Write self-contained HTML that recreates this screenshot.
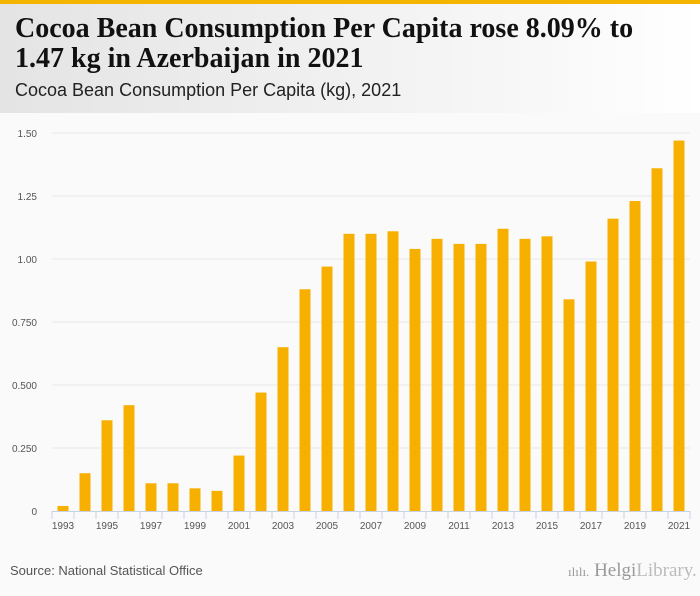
<!DOCTYPE html>
<html><head><meta charset="utf-8"><style>
body{margin:0;width:700px;height:596px;background:#fafafa;font-family:"Liberation Sans",sans-serif;overflow:hidden;position:relative}
#topbar{position:absolute;left:0;top:0;width:700px;height:4px;background:#f5b400}
#header{position:absolute;left:0;top:4px;width:700px;height:109px;background:linear-gradient(90deg,#e4e4e4,#f6f6f6 70%,#fff)}
#title{position:absolute;left:15px;top:14px;font-family:"Liberation Serif",serif;font-weight:bold;font-size:28px;line-height:30px;color:#111;margin:0;white-space:nowrap}
#subtitle{position:absolute;left:15px;top:80px;font-size:18px;color:#222}
#source{position:absolute;left:10px;top:563px;font-size:13px;color:#555}
#logo{position:absolute;left:568px;top:560px;font-family:"Liberation Serif",serif;font-size:19px;color:#999;white-space:nowrap}
svg{position:absolute;left:0;top:0}
</style></head><body>
<div id="topbar"></div>
<div id="header"></div>
<h1 id="title">Cocoa Bean Consumption Per Capita rose 8.09% to<br>1.47 kg in Azerbaijan in 2021</h1>
<div id="subtitle">Cocoa Bean Consumption Per Capita (kg), 2021</div>
<svg id="chart" width="700" height="596"></svg>
<div id="source">Source: National Statistical Office</div>
<div id="logo"><span style="font-size:13px">ılılı.</span> Helgi<span style="color:#bbb">Library.</span></div>
<script>
const years=[1993,1994,1995,1996,1997,1998,1999,2000,2001,2002,2003,2004,2005,2006,2007,2008,2009,2010,2011,2012,2013,2014,2015,2016,2017,2018,2019,2020,2021];
const values=[0.02,0.15,0.36,0.42,0.11,0.11,0.09,0.08,0.22,0.47,0.65,0.88,0.97,1.10,1.10,1.11,1.04,1.08,1.06,1.06,1.12,1.08,1.09,0.84,0.99,1.16,1.23,1.36,1.47];
const yTicks=[0,0.25,0.5,0.75,1,1.25,1.5];
const yTickLabels=["0","0.250","0.500","0.750","1.00","1.25","1.50"];
const svg=document.getElementById('chart');
const NS='http://www.w3.org/2000/svg';
const x0=52,x1=690,yBase=511,yTop=133,yMax=1.5;
const band=(x1-x0)/years.length;
const X=i=>x0+band*i+band/2;
const Y=v=>yBase-(v/yMax)*(yBase-yTop);
function mk(t,a){const e=document.createElementNS(NS,t);for(const k in a)e.setAttribute(k,a[k]);svg.appendChild(e);return e;}
yTicks.forEach((t,i)=>{
  if(t>0){const g=mk('line',{x1:x0,x2:x1,y1:Y(t),y2:Y(t),stroke:'#e8e8e8','stroke-width':1});
  
  }
  const l=mk('text',{x:37,y:Y(t)+4,'text-anchor':'end','font-size':10,fill:'#555','font-family':'Liberation Sans, sans-serif'});
  l.textContent=yTickLabels[i];
  
  
});
values.forEach((v,i)=>{
  const r=mk('rect',{x:X(i)-5.5,y:Y(v),width:11,height:yBase-Y(v),fill:'#f8b000'});
  
  
});
const ax=mk('line',{x1:x0,x2:x1,y1:yBase+0.5,y2:yBase+0.5,stroke:'#c8d2e6','stroke-width':1});


for(let i=0;i<=years.length;i++){
  const t=mk('line',{x1:x0+band*i,x2:x0+band*i,y1:yBase,y2:yBase+8,stroke:'#c8d2e6','stroke-width':1});
  
  
}
years.forEach((yr,i)=>{
  if(i%2) return;
  const l=mk('text',{x:X(i),y:yBase+18,'text-anchor':'middle','font-size':10,fill:'#555','font-family':'Liberation Sans, sans-serif'});
  l.textContent=yr;
  
  
});
</script>
</body></html>
